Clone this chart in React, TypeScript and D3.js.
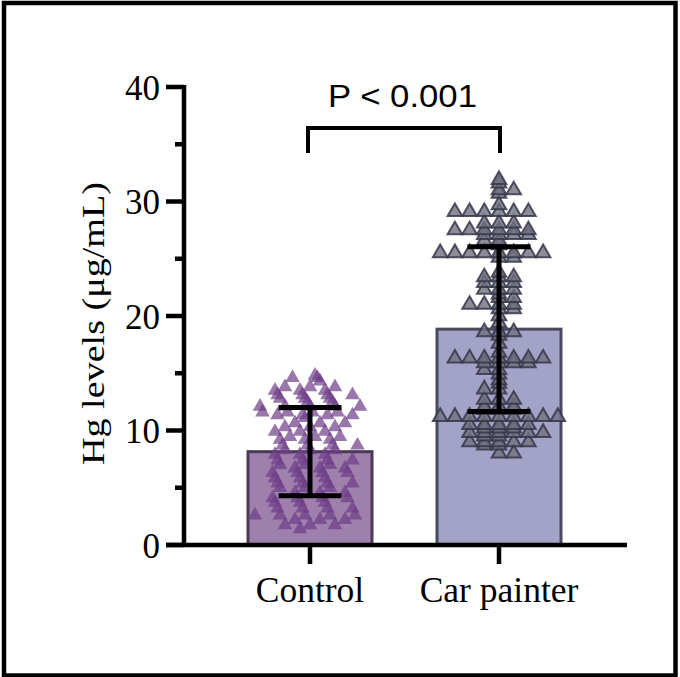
import React from "react";
import * as d3 from "d3";

const categories = ["Control", "Car painter"];
const means = [8.15, 18.85];
const sds = [3.85, 7.2];
const yTicks = [0, 10, 20, 30, 40];
const yMinorTicks = [5, 15, 25, 35];
const yLabel = "Hg levels (μg/mL)";
const pLabel = "P < 0.001";

const controlValues = [
  14.8, 14.6, 14.6, 14.3, 13.8, 13.8, 13.8, 13.5, 13.5, 13.5,
  13.1, 13.1, 13.1, 13.1, 12.8, 12.8, 12.8, 12.5, 12.5,
  12.1, 12.1, 12.1, 12.1, 12.1, 11.6, 11.6, 11.6, 11.6,
  11.35, 11.35, 11.35, 11.35, 11.1, 10.65, 10.65, 10.65,
  10.3, 10.3, 10.3, 9.9, 9.9, 9.9, 9.45, 9.45, 9.45, 9.2, 9.2, 9.2,
  8.7, 8.7, 8.7, 8.7, 8.3, 8.3, 8.3, 7.9, 7.9, 7.9,
  7.4, 7.4, 7.4, 7.4, 7.0, 7.0, 7.0, 6.7, 6.7, 6.7,
  6.3, 6.3, 6.3, 6.3, 5.85, 5.85, 5.85, 5.4, 5.4, 5.4, 5.4,
  5.0, 5.0, 5.0, 4.55, 4.55, 4.55, 4.1, 4.1, 4.1, 4.1,
  3.7, 3.7, 3.7, 3.2, 3.2, 3.2, 3.2, 2.6, 2.6, 2.6, 2.6, 2.6,
  2.2, 2.2, 2.2, 1.75, 1.75, 1.75, 1.4,
];

const painterValues = [
  31.9, 31.6, 31.0, 31.0, 30.7, 29.7,
  29.1, 29.1, 29.1, 29.1, 29.1, 29.1, 28.1, 28.1, 28.1,
  27.5, 27.5, 27.5, 27.5, 27.5, 27.5, 27.1, 27.1, 27.1, 27.1,
  26.6, 26.6, 26.2,
  25.5, 25.5, 25.5, 25.5, 25.5, 25.5, 25.5, 25.5, 25.1, 25.1,
  23.8, 23.4, 23.4, 23.4, 22.9, 22.9, 22.9, 22.3, 22.3, 22.3,
  21.9, 21.6, 21.6, 21.0, 21.0, 21.0, 21.0, 20.6, 20.6, 20.0,
  19.4, 18.6, 18.6, 18.6, 18.3, 17.6, 16.8,
  16.3, 16.3, 16.3, 16.3, 16.3, 16.3, 16.3, 15.9, 15.9, 15.9, 15.9,
  15.3, 15.3, 14.9, 14.4, 14.1, 13.6, 13.6,
  12.7, 12.7, 12.7, 12.1, 12.1, 12.1, 11.8, 11.8, 11.8,
  11.2, 11.2, 11.2, 11.2, 11.2, 11.2, 11.2, 11.2, 11.2,
  10.5, 10.5, 10.5, 10.5, 10.5, 10.2, 10.2, 10.2,
  9.8, 9.8, 9.8, 9.8, 9.8, 9.8, 9.5, 9.5,
  9.0, 9.0, 9.0, 9.0, 9.0, 8.7, 8.7, 8.0, 8.0,
];

function clusterRows(values: number[], thr: number): number[][] {
  const sorted = [...values].sort((a, b) => a - b);
  const rows: number[][] = [];
  let cur: number[] = [];
  let start = -Infinity;
  for (const v of sorted) {
    if (v - start > thr) {
      if (cur.length) rows.push(cur);
      cur = [v];
      start = v;
    } else cur.push(v);
  }
  if (cur.length) rows.push(cur);
  return rows;
}

function columnLayout(values: number[], step: number) {
  const order = [0, 1, -1, 2, -2, 3, -3, 4, -4, 5, -5];
  const out: { v: number; dx: number }[] = [];
  clusterRows(values, 0.25).forEach((row, r) => {
    const flip = r % 2 === 0 ? 1 : -1;
    row.forEach((v, i) => out.push({ v, dx: flip * order[i % order.length] * step }));
  });
  return out;
}

function spreadLayout(values: number[], step: number, maxHalf: number) {
  const out: { v: number; dx: number }[] = [];
  clusterRows(values, 0.15).forEach((row, r) => {
    const n = row.length;
    const shift = (((r * 7) % 5) - 2) * 5;
    row.forEach((v, i) => {
      let dx = (i - (n - 1) / 2) * step + shift;
      dx = Math.max(-maxHalf, Math.min(maxHalf, dx));
      out.push({ v, dx });
    });
  });
  return out;
}

export default function App() {
  const W = 680;
  const H = 677;
  const y = d3.scaleLinear().domain([0, 40]).range([545, 87]);
  const x = d3.scalePoint<string>().domain(categories).range([310, 499]);
  const barW = 124;
  const capW = 63;
  const axisX = 184;
  const axisW = 4.5;
  const serif = "'Liberation Serif', 'Times New Roman', serif";
  const sans = "'Liberation Sans', Arial, sans-serif";
  const tri = d3.symbol().type(d3.symbolTriangle).size(92)() as string;

  const barFill = ["#9f80ad", "#a3a3c8"];
  const barStroke = ["#4b3a57", "#4a4a5e"];

  const layouts = [
    spreadLayout(controlValues, 25, 57),
    columnLayout(painterValues, 14.7),
  ];

  return (
    <div style={{ position: "absolute", left: 0, top: 0 }}>
      <svg width={W} height={H} style={{ display: "block", background: "#fff" }}>
        <rect x={0} y={0} width={W} height={H} fill="#fff" />
        {categories.map((c, i) => (
          <rect
            key={"bar" + c}
            x={(x(c) as number) - barW / 2}
            y={y(means[i])}
            width={barW}
            height={y(0) - y(means[i])}
            fill={barFill[i]}
            stroke={barStroke[i]}
            strokeWidth={3}
          />
        ))}
        <g>
          {layouts[0].map((p, j) => (
            <path
              key={"c" + j}
              d={tri}
              transform={`translate(${(x(categories[0]) as number) + p.dx},${y(p.v)})`}
              fill="#6e3d88"
              fillOpacity={0.7}
            />
          ))}
        </g>
        <g>
          {layouts[1].map((p, j) => (
            <path
              key={"p" + j}
              d={tri}
              transform={`translate(${(x(categories[1]) as number) + p.dx},${y(p.v)})`}
              fill="#70707f"
              fillOpacity={0.8}
              stroke="#36364a"
              strokeOpacity={0.85}
              strokeWidth={2}
            />
          ))}
        </g>
        {categories.map((c, i) => {
          const cx = x(c) as number;
          const lo = y(means[i] - sds[i]);
          const hi = y(means[i] + sds[i]);
          return (
            <g key={"err" + c} stroke="#000" strokeWidth={5}>
              <line x1={cx} x2={cx} y1={lo} y2={hi} />
              <line x1={cx - capW / 2} x2={cx + capW / 2} y1={lo} y2={lo} />
              <line x1={cx - capW / 2} x2={cx + capW / 2} y1={hi} y2={hi} />
            </g>
          );
        })}
        <g stroke="#000" strokeWidth={axisW}>
          <line x1={axisX} x2={axisX} y1={y(40) - 2} y2={y(0)} />
          {yTicks.map((t) => (
            <line key={"yt" + t} x1={166} x2={axisX} y1={y(t)} y2={y(t)} />
          ))}
          {yMinorTicks.map((t) => (
            <line key={"ym" + t} x1={175} x2={axisX} y1={y(t)} y2={y(t)} />
          ))}
        </g>
        {yTicks.map((t) => (
          <text
            key={"yl" + t}
            x={160}
            y={y(t) + 1}
            textAnchor="end"
            dominantBaseline="central"
            fontFamily={serif}
            fontSize={35}
            fill="#000"
          >
            {t}
          </text>
        ))}
        <text
          transform={`translate(104,${(y(0) + y(40)) / 2 + 7.5}) rotate(-90)`}
          textAnchor="middle"
          fontFamily={serif}
          fontSize={32}
          textLength={283}
          lengthAdjust="spacingAndGlyphs"
          fill="#000"
        >
          {yLabel}
        </text>
        <g stroke="#000" strokeWidth={axisW}>
          <line x1={166} x2={627} y1={y(0)} y2={y(0)} />
          {categories.map((c) => (
            <line key={"xt" + c} x1={x(c) as number} x2={x(c) as number} y1={y(0)} y2={564} />
          ))}
        </g>
        {categories.map((c) => (
          <text
            key={"xl" + c}
            x={x(c) as number}
            y={602}
            textAnchor="middle"
            fontFamily={serif}
            fontSize={35.5}
            fill="#000"
          >
            {c}
          </text>
        ))}
        <path
          d={`M${(x(categories[0]) as number) - 2},153 V128 H${(x(categories[1]) as number) + 1} V153`}
          fill="none"
          stroke="#000"
          strokeWidth={4}
        />
        <text
          x={402.5}
          y={107}
          textAnchor="middle"
          fontFamily={sans}
          fontSize={31}
          textLength={149}
          lengthAdjust="spacingAndGlyphs"
          fill="#000"
        >
          {pLabel}
        </text>
        <rect x={4} y={3} width={671.5} height={672.5} fill="none" stroke="#000" strokeWidth={4.5} />
      </svg>
    </div>
  );
}
